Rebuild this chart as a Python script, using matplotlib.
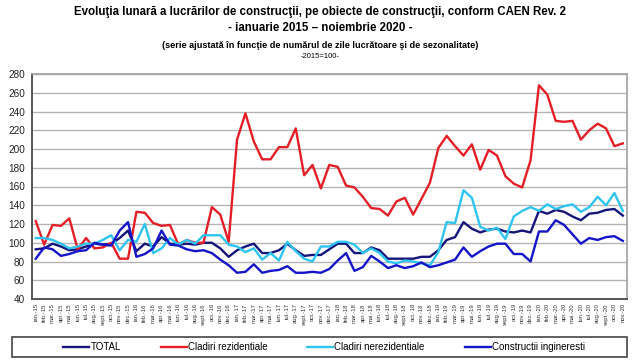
import matplotlib.pyplot as plt
import numpy as np
from matplotlib.patches import Rectangle

plt.rcParams["font.family"] = ["Liberation Sans", "DejaVu Sans"]

luni = ["ian.", "feb.", "mar.", "apr.", "mai.", "iun.", "iul.", "aug.", "sept.", "oct.", "nov.", "dec."]
labels = [f"{m}-{y}" for y in range(15, 21) for m in luni][:71]

total = [93, 94, 99, 96, 92, 93, 96, 99, 98, 99, 105, 113,
         91, 99, 96, 106, 99, 98, 99, 98, 100, 100, 94, 85,
         92, 96, 99, 89, 89, 92, 99, 92, 86, 87, 87, 93,
         99, 99, 89, 89, 95, 92, 83, 83, 83, 83, 85, 85,
         92, 103, 106, 122, 115, 111, 114, 115, 112, 111, 113, 111,
         134, 131, 135, 133, 128, 124, 131, 132, 135, 136, 129]

rezidentiale = [123, 98, 119, 118, 126, 93, 105, 94, 95, 100, 83, 83,
                133, 132, 121, 118, 119, 98, 103, 100, 100, 138, 130, 101,
                210, 238, 208, 189, 189, 202, 202, 222, 172, 183, 158, 183,
                181, 161, 159, 149, 137, 136, 129, 144, 148, 130, 147, 164,
                201, 214, 203, 193, 205, 178, 199, 193, 171, 163, 159, 188,
                268, 258, 230, 229, 230, 210, 220, 227, 222, 203, 206]

nerezidentiale = [105, 105, 103, 99, 94, 96, 99, 99, 103, 108, 92, 103,
                  101, 120, 89, 94, 105, 98, 103, 99, 108, 108, 108, 98,
                  96, 90, 94, 82, 89, 81, 101, 91, 83, 80, 96, 96,
                  101, 101, 98, 89, 94, 89, 80, 78, 81, 80, 78, 76,
                  90, 122, 121, 156, 148, 117, 113, 116, 104, 128, 134, 138,
                  134, 141, 136, 139, 141, 133, 138, 149, 140, 153, 134]

ingineresti = [83, 95, 93, 86, 88, 91, 92, 100, 98, 97, 113, 122,
               85, 88, 94, 113, 98, 97, 93, 91, 92, 89, 82, 76,
               68, 69, 77, 68, 70, 71, 75, 68, 68, 69, 68, 72,
               81, 89, 70, 74, 86, 80, 73, 76, 73, 75, 79, 74,
               76, 79, 82, 95, 85, 91, 96, 99, 99, 88, 88, 80,
               112, 112, 124, 119, 109, 99, 105, 103, 106, 107, 102]

x = np.arange(len(labels))

fig = plt.figure(figsize=(6.4, 3.6), dpi=100)
ax = fig.add_axes([32 / 640, 1 - 299 / 360, 595 / 640, 225 / 360])

ax.plot(x, total, color="#14147a", lw=1.7, label="TOTAL")
ax.plot(x, rezidentiale, color="#e41e26", lw=1.7, label="Cladiri rezidentiale")
ax.plot(x, nerezidentiale, color="#2ec4ef", lw=1.7, label="Cladiri nerezidentiale")
ax.plot(x, ingineresti, color="#1414c8", lw=1.7, label="Constructii ingineresti")

ax.set_xlim(-0.45, 70.5)
ax.set_ylim(40, 280)
ax.set_yticks(np.arange(40, 281, 20))
ax.yaxis.grid(True, color="#b4b4b4", lw=1)
ax.set_axisbelow(True)
ax.tick_params(axis="y", labelsize=7.2, length=0, pad=5, colors="#222222")
ax.set_xticks(x)
ax.set_xticklabels(labels, rotation=90, fontsize=4.2, color="#333333")
ax.tick_params(axis="x", length=0, pad=3)

for s in ["left", "bottom"]:
    ax.spines[s].set_color("#555555")
    ax.spines[s].set_linewidth(1.4)
for s in ["top", "right"]:
    ax.spines[s].set_color("#a0a0a0")
    ax.spines[s].set_linewidth(1.2)

fig.text(0.5, 1 - 12 / 360, "Evoluţia lunară a lucrărilor de construcţii, pe obiecte de construcţii, conform CAEN Rev. 2",
         ha="center", va="center", fontsize=8.3, fontweight="bold")
fig.text(0.5, 1 - 28 / 360, "- ianuarie 2015 – noiembrie 2020 -",
         ha="center", va="center", fontsize=8.3, fontweight="bold")
fig.text(0.5, 1 - 45 / 360, "(serie ajustată în funcţie de numărul de zile lucrătoare şi de sezonalitate)",
         ha="center", va="center", fontsize=6.6, fontweight="bold")
fig.text(0.5, 1 - 57 / 360, "-2015=100-", ha="center", va="center", fontsize=5.5)

# legend box drawn separately so the entries can sit spread out inside it
fig.patches.append(Rectangle((12 / 640, 3 / 360), 615 / 640, 20 / 360, transform=fig.transFigure,
                             fill=False, edgecolor="#444444", lw=1.2))
fig.legend(loc="center", bbox_to_anchor=(324 / 640, 13 / 360), ncol=4, fontsize=7,
           handlelength=2.7, handletextpad=0.1, columnspacing=4.1, frameon=False, borderaxespad=0)

fig.savefig("out.png", dpi=100)
